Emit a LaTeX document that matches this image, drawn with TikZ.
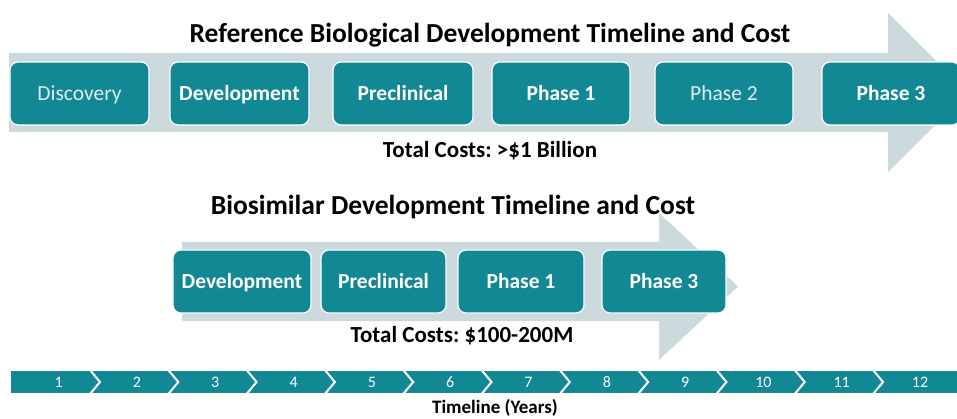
\documentclass[tikz,border=0pt]{standalone}
\usepackage{fontspec}
\setmainfont{Carlito}
\usetikzlibrary{positioning}
\definecolor{PhaseTeal}{HTML}{138895}
\definecolor{ArrowGrey}{HTML}{CCD9DD}
\definecolor{SoftWhite}{HTML}{E2ECEE}
\frenchspacing

\begin{document}
\begin{tikzpicture}[%
    x=1pt, y=-1pt,%
    stage/.style={shape=rectangle, rounded corners=8pt, draw=white, line width=1.2pt,%
      fill=PhaseTeal, minimum height=63pt, text=white, text height=14pt, text depth=0pt,%
      font=\fontsize{21.5}{25}\selectfont\bfseries},%
    light/.style={font=\fontsize{21.5}{25}\selectfont, text=SoftWhite},%
    heading/.style={anchor=base, font=\fontsize{27.5}{32}\selectfont\bfseries},%
    cost/.style={anchor=base, font=\fontsize{23}{27}\selectfont\bfseries},%
    year/.style={text=white, font=\fontsize{16}{18}\selectfont}%
  ]
  \useasboundingbox (0,0) rectangle (957,419);%

  %
  % Reference biologic
  %
  \fill[ArrowGrey] (9,53) -- (888,53) -- (888,13) -- (968,92.5) -- (888,172) -- (888,132) -- (9,132) -- cycle;%
  \node[heading] (ref title) at (490,43) {Reference Biological Development Timeline and Cost};%
  \foreach \n/\x/\w/\t/\s in {disc/79.5/139/Discovery/light, dev/239.5/139/Development/stage,%
      pre/403/140/Preclinical/stage, pa/561/138/Phase 1/stage, pb/724/138/Phase 2/light,%
      pc/891/138/Phase 3/stage} {%
      \node[stage, \s, minimum width=\w pt] (ref \n) at (\x,93.5) {\t};%
    }%
  \node[cost] (ref cost) at (490,158) {Total Costs: >\$1 Billion};%

  %
  % Biosimilar
  %
  \fill[ArrowGrey] (182,242) -- (659,242) -- (659,213) -- (738,286.5) -- (659,360) -- (659,321) -- (182,321) -- cycle;%
  \node[heading] (bio title) at (453,215) {Biosimilar Development Timeline and Cost};%
  \foreach \n/\x/\w/\t in {dev/242/138/Development, pre/383.5/125/Preclinical,%
      pa/521/126/Phase 1, pc/664/124/Phase 3} {%
      \node[stage, minimum width=\w pt] (bio \n) at (\x,281.5) {\t};%
    }%
  \node[cost] (bio cost) at (462,342) {Total Costs: \$100-200M};%

  %
  % Years
  %
  \fill[PhaseTeal] (11,371) rectangle (960,393);%
  \foreach \k in {1,...,11} {%
      \draw[white, line width=2pt] ({90+(\k-1)*78.3},370) -- ++(10,12) -- ++(-10,12);%
    }%
  \foreach \k in {1,...,12} {%
      \node[year] (year \k) at ({58.7+(\k-1)*78.3},382) {\k};%
    }%
  \node[anchor=base, font=\fontsize{19}{21}\selectfont\bfseries] (years) at (495,413.5) {Timeline (Years)};%
\end{tikzpicture}
\end{document}
